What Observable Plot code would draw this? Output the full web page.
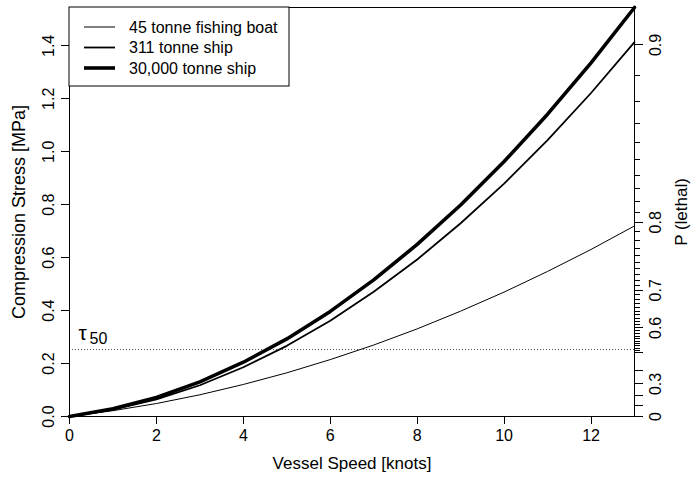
<!DOCTYPE html>
<html>
<head>
<meta charset="utf-8">
<script src="https://cdn.jsdelivr.net/npm/d3@7"></script>
<script src="https://cdn.jsdelivr.net/npm/@observablehq/plot@0.6"></script>
<style>
  html, body { margin: 0; padding: 0; background: white; }
  #chart { width: 698px; height: 477px; }
  #chart g[aria-label="y-axis tick"] path,
  #chart g[aria-label="x-axis tick"] path { shape-rendering: crispEdges; }
</style>
</head>
<body>
<div id="chart"></div>
<script>
// ---- data ----
const speed = [0, 1, 2, 3, 4, 5, 6, 7, 8, 9, 10, 11, 12, 13];
const boat45 = [0, 0.022, 0.049, 0.082, 0.121, 0.165, 0.215, 0.270, 0.331, 0.398, 0.470, 0.548, 0.631, 0.720];
const ship311 = [0, 0.026, 0.065, 0.118, 0.186, 0.267, 0.362, 0.471, 0.593, 0.730, 0.880, 1.044, 1.222, 1.414];
const ship30k = [0, 0.029, 0.072, 0.131, 0.205, 0.293, 0.397, 0.516, 0.650, 0.799, 0.963, 1.142, 1.336, 1.545];
const seriesNames = ["45 tonne fishing boat", "311 tonne ship", "30,000 tonne ship"];
const tau50 = 0.253;

const xTicks = [0, 2, 4, 6, 8, 10, 12];
const yTicks = [0, 0.2, 0.4, 0.6, 0.8, 1.0, 1.2, 1.4];
const yMax = 1.545;

// right axis: P(lethal) ticks (log-logistic dose response)
const pMajor = [0, 0.1, 0.2, 0.3, 0.4, 0.5, 0.6, 0.7, 0.8, 0.9];
const pMinor = d3.range(51, 90).filter(v => v % 10 !== 0).map(v => v / 100);
const pLabels = [0, 0.3, 0.6, 0.7, 0.8, 0.9];
const pTau = 0.242, pSlope = 0.8;
const pToStress = p => p === 0 ? 0 : pTau * Math.pow(p / (1 - p), pSlope);

const series = [boat45, ship311, ship30k];
const widths = [1, 1.8, 3.6];

const font = "'Liberation Sans', Arial, Helvetica, sans-serif";

const minorStress = pMinor.map(pToStress);
const majorStress = pMajor.map(pToStress);

const chart = Plot.plot({
  width: 698,
  height: 477,
  marginLeft: 69,
  marginRight: 64,
  marginTop: 7,
  marginBottom: 61,
  x: {domain: [0, 13]},
  y: {domain: [0, yMax]},
  style: {fontFamily: font, fontSize: "16px", color: "black", background: "white"},
  marks: [
    Plot.ruleY([tau50], {stroke: "#555", strokeWidth: 1, strokeDasharray: "1,2"}),
    ...series.map((vals, i) => Plot.line(speed.map((s, j) => ({speed: s, stress: vals[j]})), {
      x: "speed", y: "stress", stroke: "black", strokeWidth: widths[i], strokeLinejoin: "round"
    })),
    Plot.frame({stroke: "black", strokeWidth: 1}),
    Plot.axisX({ticks: xTicks, tickSize: 8, tickPadding: 5, label: null, fontSize: 16}),
    Plot.axisY({ticks: yTicks, tickSize: 8, tickFormat: () => "", label: null}),
    Plot.text(yTicks, {y: d => d, text: d => d3.format(".1f")(d), frameAnchor: "left", dx: -21,
      rotate: -90, textAnchor: "middle", lineAnchor: "middle", fontSize: 16}),
    Plot.axisY(minorStress, {anchor: "right", tickSize: 5, tickFormat: () => "", label: null}),
    Plot.axisY(majorStress, {anchor: "right", tickSize: 8, tickFormat: () => "", label: null}),
    Plot.text(pLabels, {y: d => pToStress(d), text: d => String(d), frameAnchor: "right", dx: 21,
      rotate: -90, textAnchor: "middle", lineAnchor: "middle", fontSize: 16}),
    Plot.text(["Vessel Speed [knots]"], {frameAnchor: "bottom", dy: 47, textAnchor: "middle", lineAnchor: "middle", fontSize: 17}),
    Plot.text(["Compression Stress [MPa]"], {frameAnchor: "left", dx: -50, rotate: -90, textAnchor: "middle",
      lineAnchor: "middle", fontSize: 18}),
    Plot.text(["P (lethal)"], {frameAnchor: "right", dx: 47, rotate: -90, textAnchor: "middle",
      lineAnchor: "middle", fontSize: 17}),
    Plot.text([tau50], {y: d => d, text: () => "τ", frameAnchor: "left", dx: 9, dy: -16,
      textAnchor: "start", lineAnchor: "middle", fontSize: 21}),
    Plot.text([tau50], {y: d => d, text: () => "50", frameAnchor: "left", dx: 20, dy: -11,
      textAnchor: "start", lineAnchor: "middle", fontSize: 16})
  ]
});

document.getElementById("chart").appendChild(chart);

// legend box in the top-left corner of the plot frame
const sx = chart.scale("x"), sy = chart.scale("y");
const g = d3.select(chart).append("g")
  .attr("transform", `translate(${sx.apply(0)},${sy.apply(yMax)})`)
  .attr("text-anchor", "start");
g.append("rect").attr("width", 220).attr("height", 79)
  .attr("fill", "white").attr("stroke", "black").attr("stroke-width", 1);
seriesNames.forEach((name, i) => {
  const yy = 20 + i * 20.5;
  g.append("line").attr("x1", 15).attr("x2", 46).attr("y1", yy).attr("y2", yy)
    .attr("stroke", "black").attr("stroke-width", widths[i]);
  g.append("text").attr("x", 60).attr("y", yy).attr("dy", "0.35em")
    .attr("text-anchor", "start")
    .attr("font-family", font).attr("font-size", 16).attr("fill", "black").text(name);
});
</script>
</body>
</html>
